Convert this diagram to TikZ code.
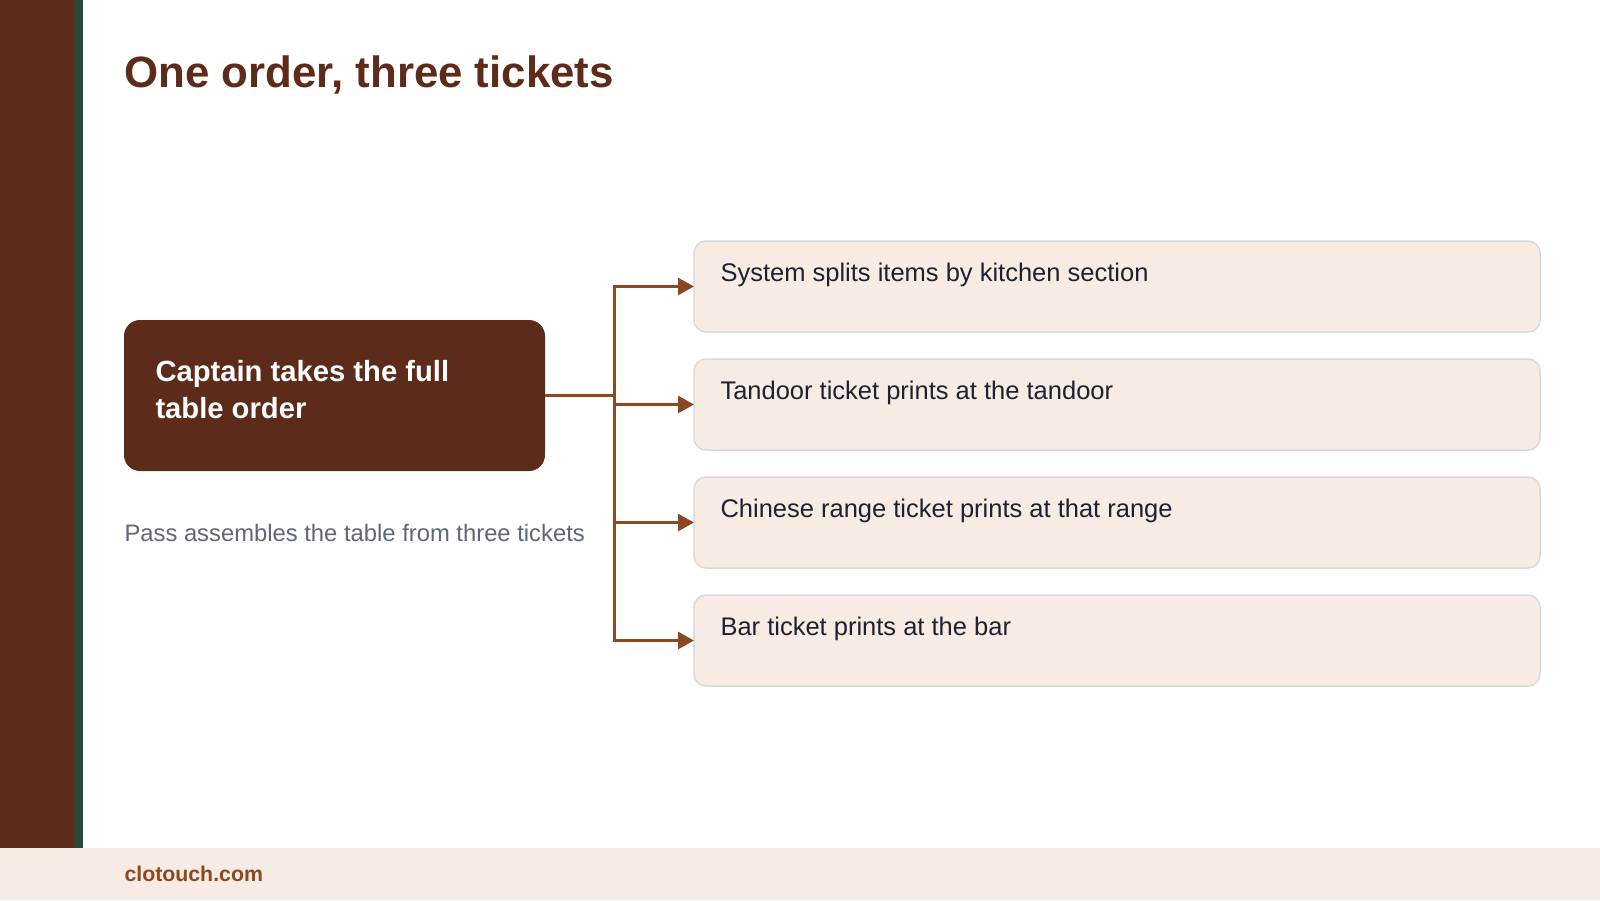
\documentclass[tikz,border=0pt]{standalone}
\usepackage{fontspec}
\setmainfont{Liberation Sans}
\usetikzlibrary{arrows.meta}
\definecolor{brownD}{HTML}{5C2B19}
\definecolor{greenD}{HTML}{244A38}
\definecolor{cream}{HTML}{F6ECE4}
\definecolor{sienna}{HTML}{8C4822}
\definecolor{boxline}{HTML}{D9D9DE}
\definecolor{navy}{HTML}{1E2131}
\definecolor{slate}{HTML}{5F6675}
\begin{document}
\begin{tikzpicture}[x=1pt,y=-1pt,
  every node/.style={inner sep=0pt, outer sep=0pt},
  stepbox/.style={draw=boxline, line width=1.5pt, fill=cream, rounded corners=12pt,
    minimum width=846pt, minimum height=91pt},
  steptext/.style={anchor=base west, text=navy, font=\fontsize{25.5}{30}\selectfont},
  conn/.style={draw=sienna, line width=3pt, -{Triangle[length=16pt,width=17pt]}}
]
\useasboundingbox (0,0) rectangle (1600,900);
\fill[white] (0,0) rectangle (1600,900);
\fill[brownD] (0,0) rectangle (75,848);
\fill[greenD] (75,0) rectangle (83,848);
\fill[cream] (0,848) rectangle (1600,900);

\node[anchor=base west, text=brownD, font=\fontsize{43.8}{50}\selectfont\bfseries] (title) at (124.5,87.5) {One order, three tickets};

\node[fill=brownD, rounded corners=16pt, minimum width=421pt, minimum height=151pt] (cap) at (334.5,395.5) {};
\node[anchor=base west, text=white, font=\fontsize{29.2}{37}\selectfont\bfseries] (captxt) at (155.5,381) {Captain takes the full};
\node[anchor=base west, text=white, font=\fontsize{29.2}{37}\selectfont\bfseries] (captxt2) at (155.5,418) {table order};

\node[anchor=base west, text=slate, font=\fontsize{23.8}{28}\selectfont] (pass) at (124.5,541.7) {Pass assembles the table from three tickets};

\node[stepbox] (b1) at (1117,286.5) {};
\node[stepbox] (b2) at (1117,404.5) {};
\node[stepbox] (b3) at (1117,522.5) {};
\node[stepbox] (b4) at (1117,640.5) {};

\node[steptext] (t1) at (720.5,281) {System splits items by kitchen section};
\node[steptext] (t2) at (720.5,399) {Tandoor ticket prints at the tandoor};
\node[steptext] (t3) at (720.5,517) {Chinese range ticket prints at that range};
\node[steptext] (t4) at (720.5,635) {Bar ticket prints at the bar};

\draw[conn] (cap.east) -- ++(69.5,0) |- (b1.west);
\draw[conn] (cap.east) -- ++(69.5,0) |- (b2.west);
\draw[conn] (cap.east) -- ++(69.5,0) |- (b3.west);
\draw[conn] (cap.east) -- ++(69.5,0) |- (b4.west);

\node[anchor=base west, text=sienna, font=\fontsize{21.3}{25}\selectfont\bfseries] (foot) at (124.5,881.7) {clotouch.com};
\end{tikzpicture}
\end{document}
